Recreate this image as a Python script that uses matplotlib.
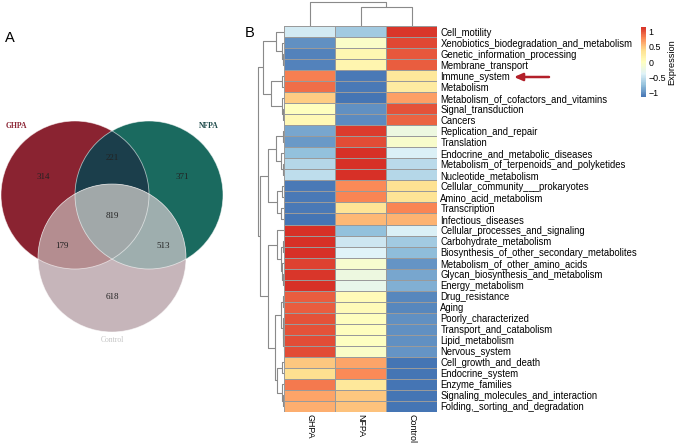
"""
Venn diagram of shared KOs (A) and clustered heatmap of KEGG pathway expression (B)
"""
import numpy as np
import matplotlib
matplotlib.use('Agg')
import matplotlib.pyplot as plt
import matplotlib.patches as patches
from matplotlib.colors import LinearSegmentedColormap

W, H = 676, 445

# ---- data ----
groups = ['GHPA', 'NFPA', 'Control']

# venn counts per region
venn_counts = {
    'G': 314, 'N': 371, 'C': 618,
    'GN': 221, 'GC': 179, 'NC': 513,
    'GNC': 819,
}

pathways = [
    'Cell_motility', 'Xenobiotics_biodegradation_and_metabolism',
    'Genetic_information_processing', 'Membrane_transport', 'Immune_system',
    'Metabolism', 'Metabolism_of_cofactors_and_vitamins', 'Signal_transduction',
    'Cancers', 'Replication_and_repair', 'Translation',
    'Endocrine_and_metabolic_diseases', 'Metabolism_of_terpenoids_and_polyketides',
    'Nucleotide_metabolism', 'Cellular_community___prokaryotes',
    'Amino_acid_metabolism', 'Transcription', 'Infectious_diseases',
    'Cellular_processes_and_signaling', 'Carbohydrate_metabolism',
    'Biosynthesis_of_other_secondary_metabolites', 'Metabolism_of_other_amino_acids',
    'Glycan_biosynthesis_and_metabolism', 'Energy_metabolism', 'Drug_resistance',
    'Aging', 'Poorly_characterized', 'Transport_and_catabolism', 'Lipid_metabolism',
    'Nervous_system', 'Cell_growth_and_death', 'Endocrine_system',
    'Enzyme_families', 'Signaling_molecules_and_interaction',
    'Folding,_sorting_and_degradation',
]

# row-scaled expression (z-scores), columns GHPA, NFPA, Control
ghpa = [-0.45, -1.00, -1.08, -1.08, 0.82, 0.88, 0.48, 0.00, 0.08, -0.88,
        -0.95, -0.75, -0.58, -0.55, -1.13, -1.13, -1.13, -1.15, 1.15, 1.15,
        1.15, 1.08, 1.12, 1.14, 0.97, 0.97, 1.00, 1.00, 1.02, 1.03,
        0.50, 0.38, 0.85, 0.65, 0.62]
nfpa = [-0.68, -0.05, 0.10, 0.12, -1.12, -1.12, -1.15, -1.00, -1.02, 1.10,
        1.03, 1.15, 1.15, 1.15, 0.78, 0.80, 0.33, 0.57, -0.75, -0.47,
        -0.38, -0.10, -0.22, -0.30, 0.05, 0.05, 0.00, 0.00, -0.02, -0.05,
        0.65, 0.78, 0.30, 0.50, 0.52]
control = [1.13, 1.05, 0.98, 0.96, 0.30, 0.24, 0.67, 1.00, 0.94, -0.22,
           -0.08, -0.40, -0.57, -0.60, 0.35, 0.33, 0.80, 0.58, -0.40, -0.68,
           -0.77, -0.98, -0.90, -0.84, -1.05, -1.05, -1.00, -1.00, -1.00, -0.98,
           -1.15, -1.15, -1.15, -1.15, -1.15]

# dendrograms as nested (left, right, height); leaves are row / column indices
row_tree = (
    ((0, (1, (2, 3, 0.8), 2.2), 8.3),
     ((4, 5, 2.0), (6, (7, 8, 1.0), 2.5), 13.3), 21.0),
    ((((9, 10, 1.5), (11, (12, 13, 1.0), 3.0), 8.0),
      ((14, 15, 2.0), (16, 17, 3.5), 7.0), 15.7),
     ((18, ((19, 20, 1.0), (21, (22, 23, 1.0), 2.0), 3.5), 7.5),
      (((24, 25, 1.5), (26, (27, (28, 29, 0.5), 1.0), 1.5), 3.0),
       ((30, 31, 2.5), (32, (33, 34, 1.0), 2.5), 7.0), 9.0), 16.0), 24.5),
    26.0)
col_tree = (0, (1, 2, 19.3), 24.3)

# ---- style ----
plt.rcParams['font.family'] = ['Liberation Sans', 'DejaVu Sans']
heat_colors = ['#4575B4', '#91BFDB', '#E0F3F8', '#FFFFBF', '#FEE090', '#FC8D59', '#D73027']
cmap = LinearSegmentedColormap.from_list('rdylbu', heat_colors, N=100)
vlim = 1.155
dendro_color = '#8a8a8a'
label_size = 6.85


def px(x0, y0, w, h):
    """pixel box (top-left origin) -> figure fraction rect"""
    return [x0 / W, 1 - (y0 + h) / H, w / W, h / H]


def draw_tree(ax, node, orient):
    """recursively draw a dendrogram, returns (position, height)"""
    if isinstance(node, int):
        return node + 0.5, 0.0
    left, right, h = node
    pl, hl = draw_tree(ax, left, orient)
    pr, hr = draw_tree(ax, right, orient)
    pos = [pl, pl, pr, pr]
    hs = [hl, h, h, hr]
    if orient == 'row':
        ax.plot(hs, pos, color=dendro_color, lw=0.8, solid_capstyle='butt')
    else:
        ax.plot(pos, hs, color=dendro_color, lw=0.8, solid_capstyle='butt')
    return (pl + pr) / 2, h


def region_poly(centers, r):
    """convex polygon of the intersection of equal circles"""
    t = np.linspace(0, 2 * np.pi, 1441)
    pts = []
    for i, (cx, cy) in enumerate(centers):
        p = np.column_stack([cx + r * np.cos(t), cy + r * np.sin(t)])
        keep = np.ones(len(p), bool)
        for j, (ox, oy) in enumerate(centers):
            if j != i:
                keep &= np.hypot(p[:, 0] - ox, p[:, 1] - oy) <= r + 1e-6
        pts.append(p[keep])
    pts = np.vstack(pts)
    c = pts.mean(0)
    order = np.argsort(np.arctan2(pts[:, 1] - c[1], pts[:, 0] - c[0]))
    return pts[order]


fig = plt.figure(figsize=(W / 100, H / 100), dpi=100)

# ---- A: venn ----
axv = fig.add_axes([0, 0, 1, 1], zorder=0)
axv.set_xlim(0, W)
axv.set_ylim(H, 0)
axv.axis('off')

R = 74
centers = {'G': (75, 195), 'N': (149, 195), 'C': (112, 258)}
region_colors = {
    'G': '#8a2331', 'N': '#1a6a5f', 'C': '#c6b5ba',
    'GN': '#1b3e4b', 'GC': '#b48d90', 'NC': '#9eaeae', 'GNC': '#a1a8a9',
}
for key in ['G', 'N', 'C']:
    axv.add_patch(patches.Circle(centers[key], R, facecolor=region_colors[key],
                                 edgecolor='none'))
for key in ['GN', 'GC', 'NC', 'GNC']:
    poly = region_poly([centers[k] for k in key], R)
    axv.add_patch(patches.Polygon(poly, closed=True, facecolor=region_colors[key],
                                  edgecolor='none'))
for key in ['G', 'N', 'C']:
    axv.add_patch(patches.Circle(centers[key], R, facecolor='none',
                                 edgecolor='white', lw=0.6, alpha=0.6))

count_pos = {
    'G': (43, 177), 'GN': (112, 158), 'N': (182, 177), 'GNC': (112, 216),
    'GC': (62, 246), 'NC': (163, 246), 'C': (112, 297),
}
for key, (x, y) in count_pos.items():
    axv.text(x, y, str(venn_counts[key]), ha='center', va='center',
             fontsize=6.5, family='Liberation Serif', color='#222222')

axv.text(16, 126, 'GHPA', ha='center', va='center', fontsize=5.5, weight='bold',
         family='Liberation Serif', color='#8b2232')
axv.text(209, 126, 'NFPA', ha='center', va='center', fontsize=5.5, weight='bold',
         family='Liberation Serif', color='#1d4a4a')
axv.text(112, 340, 'Control', ha='center', va='center', fontsize=5.5,
         family='Liberation Serif', color='#c4c4c4')
axv.text(10, 38, 'A', ha='center', va='center', fontsize=10.5)
axv.text(249.5, 33, 'B', ha='center', va='center', fontsize=10.5)

# red arrow pointing at Immune_system
axv.annotate('', xy=(514, 77), xytext=(549, 77),
             arrowprops=dict(arrowstyle='-|>,head_length=0.5,head_width=0.22',
                             color='#b3202a', lw=1.8, shrinkA=0, shrinkB=0))

# ---- B: heatmap ----
values = np.column_stack([ghpa, nfpa, control])
n_rows = len(pathways)

hx, hy, hw, hh = 284, 26, 153, 386
axh = fig.add_axes(px(hx, hy, hw, hh), zorder=2)
mesh = axh.pcolormesh(values, cmap=cmap, vmin=-vlim, vmax=vlim,
                      edgecolors='#9a9a9a', linewidth=0.5)
axh.set_xlim(0, 3)
axh.set_ylim(n_rows, 0)
for s in axh.spines.values():
    s.set_visible(False)
axh.yaxis.tick_right()
axh.set_yticks(np.arange(n_rows) + 0.5)
axh.set_yticklabels(pathways, fontsize=label_size)
axh.set_xticks(np.arange(3) + 0.5)
axh.set_xticklabels(groups, fontsize=6.4, rotation=-90, ha='center', va='top')
axh.tick_params(length=0, pad=2.5)
axh.tick_params(axis='x', pad=1.8)

# row dendrogram
axr = fig.add_axes(px(257, hy, hx - 257, hh), zorder=1)
draw_tree(axr, row_tree, 'row')
axr.set_ylim(n_rows, 0)
axr.set_xlim(row_tree[2] * 1.04, 0)
axr.axis('off')

# column dendrogram
axc = fig.add_axes(px(hx, 0, hw, hy), zorder=1)
draw_tree(axc, col_tree, 'col')
axc.set_xlim(0, 3)
axc.set_ylim(0, col_tree[2] * 1.07)
axc.axis('off')

# colorbar
axcb = fig.add_axes(px(641, 26.7, 4.5, 70.6), zorder=2)
cb = fig.colorbar(mesh, cax=axcb)
cb.outline.set_visible(False)
cb.set_ticks([-1, -0.5, 0, 0.5, 1])
cb.set_ticklabels(['\u22121', '\u22120.5', '0', '0.5', '1'])
cb.ax.tick_params(length=0, pad=2.2, labelsize=6.4)
axv.text(672, 62, 'Expression', rotation=90, ha='center', va='center', fontsize=6.6)

fig.savefig('out.png', dpi=100)
